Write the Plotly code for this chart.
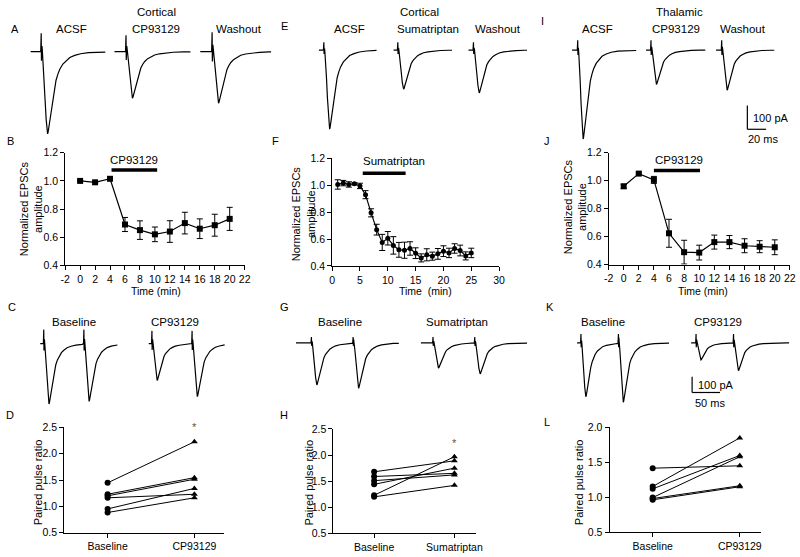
import plotly.graph_objects as go

W, H = 800, 557
FONT = "Liberation Sans, Arial, sans-serif"
TICK_SIZE = 10.5
TEXT_SIZE = 10.5
LABEL_SIZE = 11.5

# ---------------- time-course data (normalized EPSC amplitude) ----------------
B_time = [0, 2, 4, 6, 8, 10, 12, 14, 16, 18, 20]
B_amp = [1.00, 0.99, 1.015, 0.69, 0.65, 0.62, 0.64, 0.70, 0.66, 0.685, 0.73]
B_err = [0.0, 0.0, 0.0, 0.05, 0.066, 0.052, 0.077, 0.077, 0.07, 0.078, 0.082]
B_drug = [4.2, 10.3]
B_drug_name = "CP93129"

F_time = list(range(1, 26))
F_amp = [1.006, 1.016, 1.006, 1.011, 0.995, 0.93, 0.795, 0.67, 0.575, 0.606, 0.553, 0.52,
         0.517, 0.53, 0.495, 0.46, 0.483, 0.473, 0.49, 0.51, 0.497, 0.53, 0.515, 0.475, 0.497]
F_err = [0.035, 0.02, 0.02, 0.008, 0.02, 0.03, 0.03, 0.04, 0.06, 0.05, 0.065, 0.055,
         0.06, 0.05, 0.04, 0.03, 0.045, 0.03, 0.04, 0.04, 0.035, 0.035, 0.04, 0.03, 0.035]
F_drug = [5.5, 13.2]
F_drug_name = "Sumatriptan"

J_time = [0, 2, 4, 6, 8, 10, 12, 14, 16, 18, 20]
J_amp = [0.96, 1.051, 1.006, 0.624, 0.489, 0.486, 0.561, 0.561, 0.535, 0.528, 0.524]
J_err = [0.015, 0.01, 0.025, 0.1, 0.085, 0.053, 0.05, 0.047, 0.05, 0.043, 0.053]
J_drug = [4.0, 10.1]
J_drug_name = "CP93129"

# ---------------- paired pulse ratios ----------------
PPR_categories = ["Baseline", "CP93129"]
D_base = [1.447, 1.23, 1.20, 1.163, 0.952, 0.884]
D_drug = [2.227, 1.546, 1.516, 1.23, 1.342, 1.163]
H_categories = ["Baseline", "Sumatriptan"]
H_base = [1.68, 1.59, 1.51, 1.44, 1.23, 1.20]
H_drug = [1.89, 1.65, 1.62, 1.75, 1.97, 1.42]
L_categories = ["Baseline", "CP93129"]
L_base = [1.416, 1.154, 1.12, 0.995, 0.981, 0.963]
L_drug = [1.45, 1.85, 1.598, 1.58, 1.164, 1.15]

# ---------------- example EPSC traces ----------------
# normalised EPSC waveform (time in ms from stimulus)
T_MS = [-20, -0.5, 0.0, 0.25, 0.5, 0.8, 1.2, 2.0, 3.0, 4.0, 5.0, 6.0, 6.5, 7.0, 8.0, 9.0,
        10.0, 11.5, 13.0, 15.0, 17.0, 19.0, 22.0, 25.0, 29.0, 34.0, 40.0, 48.0, 58.0, 70.0]
EPSC_SHAPE = [0, 0, 0, 0, 0, 0.02, 0.06, 0.16, 0.36, 0.60, 0.82, 0.97, 1.0, 0.98, 0.90, 0.80,
              0.70, 0.57, 0.46, 0.35, 0.27, 0.21, 0.15, 0.11, 0.07, 0.045, 0.025, 0.012, 0.005, 0]
ARTIFACT_SHAPE = [0, 0, 1.0, -0.5, 0.6, 0.4, 0.3, 0.1, 0, 0, 0, 0, 0, 0, 0, 0,
                  0, 0, 0, 0, 0, 0, 0, 0, 0, 0, 0, 0, 0, 0]

A_labels = ["ACSF", "CP93129", "Washout"]
A_amp_pA = [350, 198, 219]
A_art_pA = [78, 70, 83]
E_labels = ["ACSF", "Sumatriptan", "Washout"]
E_amp_pA = [337, 167, 183]
E_art_pA = [33, 33, 33]
I_labels = ["ACSF", "CP93129", "Washout"]
I_amp_pA = [379, 146, 171]
I_art_pA = [42, 42, 42]

PP_INTERVAL_MS = 50
C_labels = ["Baseline", "CP93129"]
C_amp_pA = [[386, 369], [236, 339]]
C_art_pA = [89, 81]
G_labels = ["Baseline", "Sumatriptan"]
G_amp_pA = [[269, 290], [161, 198]]
G_art_pA = [38, 38]
K_labels = ["Baseline", "CP93129"]
K_amp_pA = [[344, 379], [109, 178]]
K_art_pA = [56, 56]

# ---------------- helpers ----------------
fig = go.Figure()
layout_axes = {}
annotations = []
shapes = []


def ax_names(i):
    return ("xaxis" if i == 1 else f"xaxis{i}", "yaxis" if i == 1 else f"yaxis{i}",
            "x" if i == 1 else f"x{i}", "y" if i == 1 else f"y{i}")


def ann(text, x, y, size=TEXT_SIZE, angle=0, xanchor="center", color="black"):
    annotations.append(dict(text=text, x=x / W, y=1 - y / H, xref="paper", yref="paper",
                            showarrow=False, textangle=angle, xanchor=xanchor, yanchor="middle",
                            font=dict(family=FONT, size=size, color=color)))


def chart_axes(i, xpx, ypx, xr, yr, xtv, xtt, ytv, ytt):
    xk, yk, xs, ys = ax_names(i)
    common = dict(showline=True, linecolor="black", linewidth=1, ticks="outside", ticklen=4,
                  tickwidth=1, tickcolor="black", showgrid=False, zeroline=False, fixedrange=True,
                  tickfont=dict(family=FONT, size=TICK_SIZE, color="black"))
    layout_axes[xk] = dict(domain=[xpx[0] / W, xpx[1] / W], range=xr, anchor=ys,
                           tickvals=xtv, ticktext=xtt, **common)
    layout_axes[yk] = dict(domain=[1 - ypx[1] / H, 1 - ypx[0] / H], range=yr, anchor=xs,
                           tickvals=ytv, ticktext=ytt, **common)
    return xs, ys


def blank_axes(i, xpx, ypx, xr, yr):
    xk, yk, xs, ys = ax_names(i)
    hid = dict(visible=False, showgrid=False, zeroline=False, fixedrange=True)
    layout_axes[xk] = dict(domain=[xpx[0] / W, xpx[1] / W], range=xr, anchor=ys, **hid)
    layout_axes[yk] = dict(domain=[1 - ypx[1] / H, 1 - ypx[0] / H], range=yr, anchor=xs, **hid)
    return xs, ys


def epsc_segment(amp, art, pre, post):
    t, y = [-pre], [0.0]
    for ti, si, ri in zip(T_MS, EPSC_SHAPE, ARTIFACT_SHAPE):
        if -pre < ti <= post:
            t.append(ti)
            y.append(-amp * si + art * ri)
    if t[-1] < post:
        t.append(post)
        y.append(y[-1])
    return t, y


def time_course(i, xpx, ypx, xr, xtv, xtt, time, amp, err, symbol, size, drug, drug_name,
                bar_y, label_y, label_x, label_anchor):
    xs, ys = chart_axes(i, xpx, ypx, xr, [0.4, 1.2], xtv, xtt,
                        [0.4, 0.6, 0.8, 1.0, 1.2], ["0.4", "0.6", "0.8", "1.0", "1.2"])
    fig.add_trace(go.Scatter(x=time, y=amp, xaxis=xs, yaxis=ys, mode="lines+markers",
                             line=dict(color="black", width=1.2),
                             marker=dict(symbol=symbol, size=size, color="black"),
                             error_y=dict(type="data", array=err, color="black", thickness=1, width=3),
                             cliponaxis=False, showlegend=False))
    fig.add_trace(go.Scatter(x=drug, y=[bar_y, bar_y], xaxis=xs, yaxis=ys, mode="lines",
                             line=dict(color="black", width=3.5), showlegend=False, cliponaxis=False))
    annotations.append(dict(text=drug_name, x=label_x, y=label_y, xref=xs, yref=ys, showarrow=False,
                            xanchor=label_anchor, yanchor="middle",
                            font=dict(family=FONT, size=LABEL_SIZE, color="black")))


def ppr_panel(i, xpx, ypx, xr, yr, ytv, cats, base, drug, star, star_y):
    xs, ys = chart_axes(i, xpx, ypx, xr, yr, [0, 1], cats, ytv, [f"{v:.1f}" for v in ytv])
    for b, d in zip(base, drug):
        fig.add_trace(go.Scatter(x=[0, 1], y=[b, d], xaxis=xs, yaxis=ys, mode="lines+markers",
                                 line=dict(color="black", width=1),
                                 marker=dict(symbol=["circle", "triangle-up"], size=6, color="black"),
                                 cliponaxis=False, showlegend=False))
    annotations.append(dict(text=star, x=1, y=star_y, xref=xs, yref=ys, showarrow=False,
                            font=dict(family=FONT, size=11, color="#555555")))


def single_traces(i, xpx, ypx, k, m, base_py, arts_px, starts_px, ends_px, amps, arts):
    xr = [0, (xpx[1] - xpx[0]) / k]
    yr = [-(ypx[1] - base_py) / m, (base_py - ypx[0]) / m]
    xs, ys = blank_axes(i, xpx, ypx, xr, yr)
    for a_px, s_px, e_px, amp, art in zip(arts_px, starts_px, ends_px, amps, arts):
        t0 = (a_px - xpx[0]) / k
        t, y = epsc_segment(amp, art, (a_px - s_px) / k, (e_px - a_px) / k)
        fig.add_trace(go.Scatter(x=[v + t0 for v in t], y=y, xaxis=xs, yaxis=ys, mode="lines",
                                 line=dict(color="black", width=1.2), cliponaxis=False,
                                 showlegend=False))


def paired_traces(i, xpx, ypx, k, m, base_py, arts_px, starts_px, ends_px, amps, arts):
    xr = [0, (xpx[1] - xpx[0]) / k]
    yr = [-(ypx[1] - base_py) / m, (base_py - ypx[0]) / m]
    xs, ys = blank_axes(i, xpx, ypx, xr, yr)
    for a_px, s_px, e_px, (a1, a2), art in zip(arts_px, starts_px, ends_px, amps, arts):
        t0 = (a_px - xpx[0]) / k
        t1, y1 = epsc_segment(a1, art, (a_px - s_px) / k, PP_INTERVAL_MS - 0.6)
        t2, y2 = epsc_segment(a2, art, 0.5, (e_px - a_px) / k - PP_INTERVAL_MS)
        t = t1 + [v + PP_INTERVAL_MS for v in t2]
        y = y1 + y2
        fig.add_trace(go.Scatter(x=[v + t0 for v in t], y=y, xaxis=xs, yaxis=ys, mode="lines",
                                 line=dict(color="black", width=1.2), cliponaxis=False,
                                 showlegend=False))


# ---------------- time-course panels B, F, J ----------------
ticks_22 = list(range(-2, 23, 2))
time_course(1, (61, 243), (150, 265), [-2, 22], ticks_22, [str(v) for v in ticks_22],
            B_time, B_amp, B_err, "square", 6, B_drug, B_drug_name, 1.077, 1.15,
            sum(B_drug) / 2, "center")
ticks_30 = list(range(0, 31, 5))
time_course(2, (331.7, 501), (155.7, 265.7), [0, 30], ticks_30, [str(v) for v in ticks_30],
            F_time, F_amp, F_err, "circle", 5, F_drug, F_drug_name, 1.09, 1.18,
            F_drug[0] - 0.4, "left")
time_course(3, (612, 795.8), (150, 264.3), [-2, 22], ticks_22, [str(v) for v in ticks_22],
            J_time, J_amp, J_err, "square", 6, J_drug, J_drug_name, 1.074, 1.15,
            sum(J_drug) / 2 + 0.3, "center")

# ---------------- PPR panels D, H, L ----------------
ppr_panel(4, (60, 222), (430.7, 538.3), [-0.5, 1.34], [0.5, 2.5], [0.5, 1.0, 1.5, 2.0, 2.5],
          PPR_categories, D_base, D_drug, "*", 2.5)
ppr_panel(5, (333, 478), (432.3, 539), [-0.507, 1.274], [0.5, 2.5], [0.5, 1.0, 1.5, 2.0, 2.5],
          H_categories, H_base, H_drug, "*", 2.23)
ppr_panel(6, (613, 767), (430.7, 537.7), [-0.495, 1.249], [0.5, 2.0], [0.5, 1.0, 1.5, 2.0],
          L_categories, L_base, L_drug, "**", 2.04)

# ---------------- example traces A, E, I ----------------
single_traces(7, (0, 270), (0, 140), 1.0, 0.24, 46.7, [36.7, 122.7, 210], [26, 111, 198],
              [101.7, 188, 270], A_amp_pA, A_art_pA)
single_traces(8, (270, 540), (0, 140), 0.9, 0.24, 45, [323.3, 398.3, 475], [318.3, 394, 470],
              [376.7, 453.3, 529.3], E_amp_pA, E_art_pA)
single_traces(9, (540, 800), (0, 140), 0.85, 0.24, 45, [580.7, 655, 726.7], [575, 650, 721],
              [640, 710, 780], I_amp_pA, I_art_pA)

# ---------------- paired-pulse traces C, G, K ----------------
paired_traces(10, (0, 270), (300, 420), 0.814, 0.16, 345, [39.3, 149], [35.7, 145.7],
              [114, 222.7], C_amp_pA, C_art_pA)
paired_traces(11, (270, 540), (300, 420), 0.846, 0.16, 344.3, [310.7, 434], [295, 421.7],
              [399.3, 529.3], G_amp_pA, G_art_pA)
paired_traces(12, (540, 800), (300, 420), 0.76, 0.16, 344.3, [584, 700.7], [580, 695.7],
              [673.3, 795], K_amp_pA, K_art_pA)

# ---------------- texts ----------------
ann("Cortical", 154, 6, size=LABEL_SIZE)
ann("Cortical", 420.7, 6, size=LABEL_SIZE)
ann("Thalamic", 684, 6, size=LABEL_SIZE)
for lab, x in zip(A_labels, [67.7, 153.3, 237.3]):
    ann(lab, x, 23.3, size=LABEL_SIZE)
for lab, x in zip(E_labels, [349, 429.3, 500]):
    ann(lab, x, 23.3, size=LABEL_SIZE)
for lab, x in zip(I_labels, [600.7, 680, 748.3]):
    ann(lab, x, 24, size=LABEL_SIZE)
for lab, x in zip(C_labels, [70, 172.7]):
    ann(lab, x, 322.7, size=LABEL_SIZE)
for lab, x in zip(G_labels, [339.3, 458.7]):
    ann(lab, x, 323.3, size=LABEL_SIZE)
for lab, x in zip(K_labels, [606.7, 723.3]):
    ann(lab, x, 323.3, size=LABEL_SIZE)

for letter, x, y in [("A", 10, 24), ("E", 283, 20), ("I", 545, 15), ("B", 6, 138),
                     ("F", 274, 138), ("J", 550, 138), ("C", 7, 308), ("G", 283, 308),
                     ("K", 553, 308), ("D", 5, 418), ("H", 283, 418), ("L", 550, 425)]:
    ann(letter, x, y, size=11)

ann("Normalized EPSCs<br>amplitude", 26, 207, angle=-90, size=11)
ann("Normalized EPSCs<br>amplitude", 303, 212, angle=-90, size=11)
ann("Normalized EPSCs<br>amplitude", 577.5, 205, angle=-90, size=11)
ann("Time (min)", 153.3, 291)
ann("Time  (min)", 426.7, 291)
ann("Time (min)", 707.3, 291)
ann("Paired pulse ratio", 33.3, 487, angle=-90, size=11)
ann("Paired pulse ratio", 307.3, 487, angle=-90, size=11)
ann("Paired pulse ratio", 581.7, 487, angle=-90, size=11)


# scale bars
def pline(x0, y0, x1, y1):
    shapes.append(dict(type="line", xref="paper", yref="paper", x0=x0 / W, x1=x1 / W,
                       y0=1 - y0 / H, y1=1 - y1 / H, line=dict(color="black", width=1.2)))


pline(752.7, 101.7, 752.7, 126)
pline(752.7, 126, 771.7, 126)
ann("100 pA", 756.5, 114, xanchor="left", size=11)
ann("20 ms", 768.3, 135.5, size=11)
pline(696.7, 379, 696.7, 395)
pline(696.7, 395, 725, 395)
ann("100 pA", 700.5, 387, xanchor="left", size=11)
ann("50 ms", 715, 405.5, size=11)

fig.update_layout(width=W, height=H, margin=dict(l=0, r=0, t=0, b=0),
                  paper_bgcolor="white", plot_bgcolor="rgba(0,0,0,0)",
                  showlegend=False, annotations=annotations, shapes=shapes, **layout_axes)

fig.write_html("out.html", config={"displayModeBar": False, "staticPlot": True},
               post_script="document.body.style.margin='0';document.body.style.overflow='hidden';")
